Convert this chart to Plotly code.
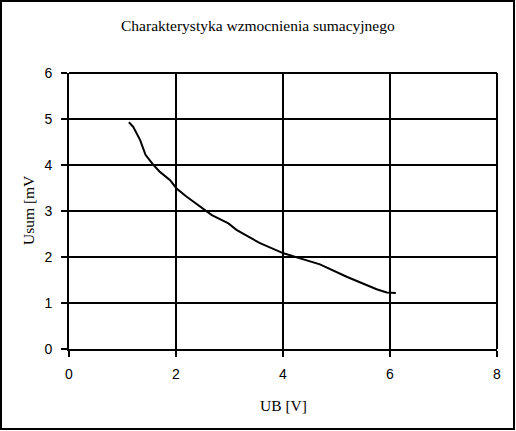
import plotly.graph_objects as go

ub = [1.12, 1.20, 1.33, 1.43, 1.58, 1.70, 1.89, 2.01, 2.20, 2.45, 2.67, 2.98, 3.13, 3.57, 4.01, 4.69, 5.19, 5.75, 5.94, 6.11]
usum = [4.93, 4.83, 4.54, 4.22, 4.00, 3.85, 3.67, 3.49, 3.31, 3.09, 2.91, 2.73, 2.59, 2.30, 2.08, 1.84, 1.57, 1.30, 1.23, 1.22]

title = "Charakterystyka wzmocnienia sumacyjnego"
xlabel = "UB [V]"
ylabel = "Usum [mV"

L, R, T, B = 69, 19, 73, 82
W, H = 516, 431
pw, ph = W - L - R, H - T - B

fig = go.Figure()
fig.add_trace(go.Scatter(x=ub, y=usum, mode="lines",
                         line=dict(color="black", width=2), showlegend=False))

serif = "Liberation Serif, Times New Roman, serif"
sans = "Liberation Sans, Arial, sans-serif"

def px(x):
    return (x - L) / pw

def py(y):
    return (H - B - y) / ph

fig.update_layout(
    width=W, height=H,
    margin=dict(l=L, r=R, t=T, b=B),
    paper_bgcolor="white", plot_bgcolor="white",
    xaxis=dict(range=[0, 8], tickvals=[0, 2, 4, 6, 8], showgrid=True, gridcolor="black", gridwidth=2,
               showline=True, linecolor="black", linewidth=2,
               ticks="outside", ticklen=6, tickwidth=2, tickcolor="black",
               tickfont=dict(family=sans, size=14, color="black"), zeroline=False,
               ticklabelstandoff=5),
    yaxis=dict(range=[0, 6], tickvals=[0, 1, 2, 3, 4, 5, 6], showgrid=True, gridcolor="black", gridwidth=2,
               showline=True, linecolor="black", linewidth=2,
               ticks="outside", ticklen=6, tickwidth=2, tickcolor="black",
               tickfont=dict(family=sans, size=14, color="black"), zeroline=False,
               ticklabelstandoff=6),
    shapes=[
        dict(type="rect", xref="paper", yref="paper",
             x0=px(1), x1=px(514), y0=py(429), y1=py(1),
             line=dict(color="black", width=2), fillcolor="rgba(0,0,0,0)", layer="below"),
        dict(type="line", xref="paper", yref="paper", x0=1, x1=1, y0=0, y1=1,
             line=dict(color="black", width=2)),
        dict(type="line", xref="paper", yref="paper", x0=0, x1=1, y0=1, y1=1,
             line=dict(color="black", width=2)),
    ],
    annotations=[
        dict(text=title, xref="paper", yref="paper", x=px(258), y=py(26),
             showarrow=False, xanchor="center", yanchor="middle",
             font=dict(family=serif, size=15.5, color="black")),
        dict(text=xlabel, xref="paper", yref="paper", x=px(283), y=py(405),
             showarrow=False, xanchor="center", yanchor="middle",
             font=dict(family=serif, size=15.5, color="black")),
        dict(text=ylabel, xref="paper", yref="paper", x=px(28), y=py(210),
             showarrow=False, xanchor="center", yanchor="middle", textangle=-90,
             font=dict(family=serif, size=15.5, color="black")),
    ],
)

fig.write_html("out.html", config={"displayModeBar": False},
               post_script="document.body.style.margin='0';")
